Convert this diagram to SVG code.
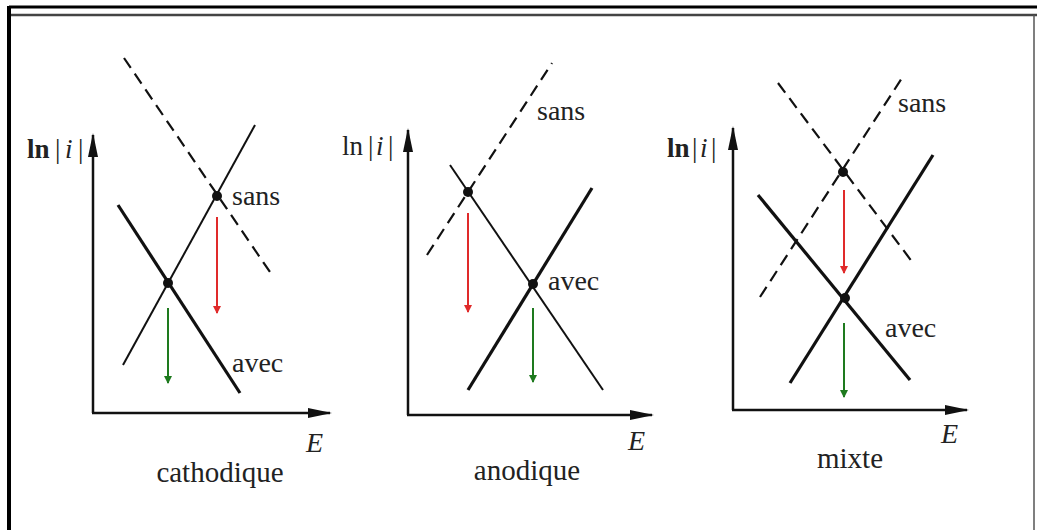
<svg xmlns="http://www.w3.org/2000/svg" width="1037" height="530" viewBox="0 0 1037 530">
<defs>
<marker id="axh" viewBox="0 0 24 10" refX="22" refY="5" markerWidth="24" markerHeight="10" markerUnits="userSpaceOnUse" orient="auto"><path d="M0,0 L24,5 L0,10 Z" fill="#111"/></marker>
<marker id="rh" viewBox="0 0 8 8" refX="7" refY="4" markerWidth="8" markerHeight="8" markerUnits="userSpaceOnUse" orient="auto"><path d="M0,0 L8,4 L0,8 Z" fill="#e02a2a"/></marker>
<marker id="gh" viewBox="0 0 8 8" refX="7" refY="4" markerWidth="8" markerHeight="8" markerUnits="userSpaceOnUse" orient="auto"><path d="M0,0 L8,4 L0,8 Z" fill="#1e7a1e"/></marker>
</defs>
<style>
.axis{stroke:#111;stroke-width:2.5;fill:none;marker-end:url(#axh)}
.thick{stroke:#111;stroke-width:3.2;fill:none}
.thin{stroke:#111;stroke-width:2;fill:none}
.dash{stroke:#111;stroke-width:2.2;fill:none;stroke-dasharray:12 7}
.red{stroke:#e02a2a;stroke-width:2;fill:none;marker-end:url(#rh)}
.green{stroke:#1e7a1e;stroke-width:2;fill:none;marker-end:url(#gh)}
.dot{fill:#111}
text{font-family:"Liberation Serif","Times New Roman",serif;fill:#222}
.lbl{font-size:28px}
.cap{font-size:29px}
.ax{font-size:27px}
.E{font-size:28px;font-style:italic}
</style>
<rect x="0" y="0" width="1037" height="530" fill="#fff"/>
<g id="frame">
<line x1="9" y1="7" x2="1037" y2="7" stroke="#000" stroke-width="3"/>
<line x1="9" y1="6" x2="9" y2="530" stroke="#000" stroke-width="4"/>
<line x1="11" y1="15" x2="1037" y2="15" stroke="#444" stroke-width="2.5"/>
<line x1="1034" y1="15" x2="1034" y2="530" stroke="#555" stroke-width="1.5"/>
</g>
<g id="connectors">
<!-- panel 1 -->
<line class="axis" x1="93" y1="413" x2="93" y2="135"/>
<line class="axis" x1="92" y1="413" x2="330" y2="413"/>
<line class="dash" x1="124" y1="58" x2="272" y2="275"/>
<line class="thin" x1="123" y1="365" x2="255" y2="125"/>
<line class="thick" x1="118" y1="205" x2="240" y2="393"/>
<line class="red" x1="217" y1="217" x2="217" y2="313"/>
<line class="green" x1="168" y1="308" x2="168" y2="383"/>
<!-- panel 2 -->
<line class="axis" x1="408" y1="415" x2="408" y2="130"/>
<line class="axis" x1="407" y1="415" x2="652" y2="415"/>
<line class="dash" x1="427" y1="255" x2="552" y2="63"/>
<line class="thin" x1="450" y1="165" x2="603" y2="390"/>
<line class="thick" x1="468" y1="390" x2="592" y2="188"/>
<line class="red" x1="468" y1="213" x2="468" y2="312"/>
<line class="green" x1="533" y1="308" x2="533" y2="382"/>
<!-- panel 3 -->
<line class="axis" x1="733" y1="410" x2="733" y2="128"/>
<line class="axis" x1="732" y1="410" x2="967" y2="410"/>
<line class="dash" x1="778" y1="83" x2="913" y2="263"/>
<line class="dash" x1="760" y1="297" x2="902" y2="78"/>
<line class="thick" x1="758" y1="195" x2="910" y2="380"/>
<line class="thick" x1="790" y1="383" x2="933" y2="155"/>
<line class="red" x1="844" y1="190" x2="844" y2="273"/>
<line class="green" x1="844" y1="323" x2="844" y2="397"/>
</g>
<g id="cathodique">
<circle class="dot" cx="168" cy="283" r="5"/>
<circle class="dot" cx="217" cy="196" r="5"/>
<text class="ax" y="158"><tspan x="27" font-weight="bold">ln</tspan><tspan x="55">|</tspan><tspan x="65" font-style="italic">i</tspan><tspan x="78">|</tspan></text>
<text class="lbl" x="232" y="205">sans</text>
<text class="lbl" x="232" y="372">avec</text>
<text class="E" x="306" y="452">E</text>
<text class="cap" x="220" y="482" text-anchor="middle">cathodique</text>
</g>
<g id="anodique">
<circle class="dot" cx="468" cy="192" r="5"/>
<circle class="dot" cx="533" cy="284" r="5"/>
<text class="ax" y="155"><tspan x="342">ln</tspan><tspan x="368">|</tspan><tspan x="376" font-style="italic">i</tspan><tspan x="388">|</tspan></text>
<text class="lbl" x="537" y="120">sans</text>
<text class="lbl" x="548" y="290">avec</text>
<text class="E" x="628" y="450">E</text>
<text class="cap" x="527" y="480" text-anchor="middle">anodique</text>
</g>
<g id="mixte">
<circle class="dot" cx="843" cy="172" r="5"/>
<circle class="dot" cx="845" cy="298" r="5"/>
<text class="ax" y="157"><tspan x="667" font-weight="bold">ln</tspan><tspan x="692">|</tspan><tspan x="700" font-style="italic">i</tspan><tspan x="711">|</tspan></text>
<text class="lbl" x="898" y="112">sans</text>
<text class="lbl" x="885" y="337">avec</text>
<text class="E" x="941" y="443">E</text>
<text class="cap" x="850" y="468" text-anchor="middle">mixte</text>
</g>
</svg>
